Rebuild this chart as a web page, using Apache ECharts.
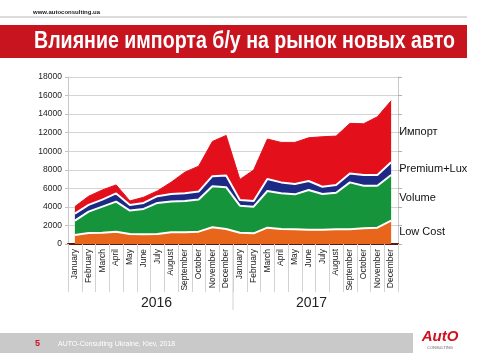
<!DOCTYPE html>
<html>
<head>
<meta charset="utf-8">
<script src="https://cdn.jsdelivr.net/npm/echarts@6.0.0/dist/echarts.min.js"></script>
<style>
  html, body { margin: 0; padding: 0; background: #fff; }
  #chart { width: 500px; height: 353px; }
</style>
</head>
<body>
<div id="chart"></div>
<script>
  // месяцы 2016 + 2017
  var months = ['January', 'February', 'March', 'April', 'May', 'June', 'July', 'August',
    'September', 'October', 'November', 'December',
    'January', 'February', 'March', 'April', 'May', 'June', 'July', 'August',
    'September', 'October', 'November', 'December'];
  var years = ['2016', '2017'];
  var yTicks = [0, 2000, 4000, 6000, 8000, 10000, 12000, 14000, 16000, 18000];

  var lowCost = [970, 1190, 1220, 1330, 1080, 1040, 1080, 1260, 1260, 1330, 1800, 1620,
    1220, 1150, 1760, 1620, 1580, 1540, 1540, 1580, 1580, 1690, 1760, 2510];
  var volume = [1550, 2300, 2810, 3240, 2520, 2740, 3350, 3310, 3380, 3460, 4430, 4500,
    2910, 2870, 3950, 3840, 3770, 4280, 3850, 3950, 5060, 4590, 4520, 4920];
  var premium = [760, 720, 760, 880, 610, 650, 720, 830, 830, 860, 1080, 1260,
    610, 610, 1290, 1180, 1110, 970, 780, 820, 970, 1150, 1150, 1370];
  var imports = [750, 940, 1040, 920, 430, 610, 570, 1260, 2270, 2740, 3740, 4320,
    2220, 3340, 4310, 4310, 4490, 4660, 5390, 5280, 5390, 5530, 6280, 6640];

  var seriesNames = ['Low Cost', 'Volume', 'Premium+Lux', 'Импорт'];
  var seriesData = [lowCost, volume, premium, imports];
  var colors = ['#e8651c', '#15943b', '#1c2a86', '#e3101c'];

  var chart = echarts.init(document.getElementById('chart'));
  var last = months.length - 1;

  // подпись справа — по середине слоя в последней точке
  function makeSeries(i) {
    var base = 0;
    for (var k = 0; k < i; k++) base += seriesData[k][last];
    var isTop = i === seriesData.length - 1;
    return {
      name: seriesNames[i],
      type: 'line',
      stack: 'total',
      data: seriesData[i],
      symbol: 'none',
      color: colors[i],
      lineStyle: { color: isTop ? colors[i] : '#fff', width: isTop ? 1 : 2 },
      areaStyle: { color: colors[i], opacity: 1 },
      markPoint: {
        symbol: 'circle',
        symbolSize: 0,
        data: [{ coord: [last, base + seriesData[i][last] / 2] }],
        label: {
          show: true,
          position: 'right',
          distance: 8,
          formatter: seriesNames[i],
          color: '#111',
          fontSize: 11,
          fontFamily: 'Liberation Sans'
        }
      }
    };
  }

  // заголовок: сжимаем по ширине под плашку
  var titleText = 'Влияние импорта б/у на рынок новых авто';
  var titleFont = 'bold 23px "Liberation Sans"';
  var ctx = document.createElement('canvas').getContext('2d');
  ctx.font = titleFont;
  var titleScale = 421 / ctx.measureText(titleText).width;

  var graphics = [
    { id: 'site', type: 'text', left: 33, top: 9,
      style: { text: 'www.autoconsulting.ua', fill: '#222', font: 'bold 6px Liberation Sans' } },
    { id: 'topline', type: 'line', shape: { x1: 0, y1: 17, x2: 467, y2: 17 },
      style: { stroke: '#b8b8b8', lineWidth: 1 } },
    { id: 'banner', type: 'rect', shape: { x: 0, y: 25, width: 467, height: 33 },
      style: { fill: '#c8141e' } },
    { id: 'title', type: 'text', x: 34, y: 42, scaleX: titleScale,
      style: { text: titleText, fill: '#fff', font: titleFont, verticalAlign: 'middle' } },
    { id: 'footer', type: 'rect', shape: { x: 0, y: 333, width: 467, height: 20 },
      style: { fill: '#c9c9c9' } },
    { id: 'page', type: 'text', x: 35, y: 344,
      style: { text: '5', fill: '#d0101e', font: 'bold 9px Liberation Sans', verticalAlign: 'middle' } },
    { id: 'foottext', type: 'text', x: 58, y: 344,
      style: { text: 'AUTO-Consulting Ukraine, Kiev, 2018', fill: '#fff', font: '7px Liberation Sans',
        verticalAlign: 'middle' } },
    { id: 'logobox', type: 'rect', shape: { x: 413, y: 325, width: 54, height: 28 },
      style: { fill: '#fff' } },
    { id: 'logo', type: 'text', x: 440, y: 337,
      style: { text: 'AutO', fill: '#d0101e', font: 'italic bold 15px Liberation Sans',
        align: 'center', verticalAlign: 'middle' } },
    { id: 'logosub', type: 'text', x: 440, y: 348,
      style: { text: 'CONSULTING', fill: '#666', font: '4px Liberation Sans',
        align: 'center', verticalAlign: 'middle' } }
  ];

  var option = {
    backgroundColor: '#fff',
    animation: false,
    textStyle: { fontFamily: 'Liberation Sans' },
    grid: { left: 68, right: 102, top: 77, bottom: 109 },
    xAxis: [
      {
        type: 'category',
        data: months,
        boundaryGap: true,
        axisLine: { lineStyle: { color: '#5a1a10', width: 2 } },
        axisTick: { show: true, interval: 0, length: 48, lineStyle: { color: '#d2d2d2' } },
        axisLabel: { interval: 0, rotate: 90, fontSize: 8.5, color: '#222', margin: 5 }
      },
      {
        type: 'category',
        data: years,
        boundaryGap: true,
        position: 'bottom',
        offset: 50,
        axisLine: { show: false },
        axisTick: { show: false },
        axisLabel: {
          margin: 2,
          fontSize: 14,
          color: '#222',
          formatter: function (v, i) { return i === 0 ? '{a|' + v + '}' : '{b|' + v + '}'; },
          rich: {
            a: { fontSize: 14, color: '#222', padding: [0, 0, 0, 12] },
            b: { fontSize: 14, color: '#222', padding: [0, 8, 0, 0] }
          }
        }
      }
    ],
    yAxis: [
      {
        type: 'value',
        min: yTicks[0],
        max: yTicks[yTicks.length - 1],
        interval: yTicks[1] - yTicks[0],
        axisLine: { show: true, lineStyle: { color: '#c8c8c8' } },
        axisTick: { show: true, length: 3, lineStyle: { color: '#c0c0c0' } },
        axisLabel: { fontSize: 8.5, color: '#222', margin: 6,
          formatter: function (v) { return String(v); } },
        splitLine: { lineStyle: { color: '#d4d4d4' } }
      },
      {
        type: 'value',
        position: 'right',
        min: yTicks[0],
        max: yTicks[yTicks.length - 1],
        interval: yTicks[1] - yTicks[0],
        axisLine: { show: true, lineStyle: { color: '#c8c8c8' } },
        axisTick: { show: true, length: 4, lineStyle: { color: '#b0b0b0' } },
        axisLabel: { show: false },
        splitLine: { show: false }
      }
    ],
    series: seriesData.map(function (d, i) { return makeSeries(i); }),
    graphic: { elements: graphics }
  };

  chart.setOption(option);

  // длинный разделитель между годами
  var p11 = chart.convertToPixel({ xAxisIndex: 0 }, 11);
  var p12 = chart.convertToPixel({ xAxisIndex: 0 }, 12);
  var gx = (p11 + p12) / 2;
  var gy = chart.convertToPixel({ yAxisIndex: 0 }, 0);
  graphics.push({ id: 'yearsep', type: 'line', shape: { x1: gx, y1: gy, x2: gx, y2: gy + 66 },
    style: { stroke: '#d2d2d2', lineWidth: 1 } });
  chart.setOption({ graphic: { elements: graphics } });
</script>
</body>
</html>
